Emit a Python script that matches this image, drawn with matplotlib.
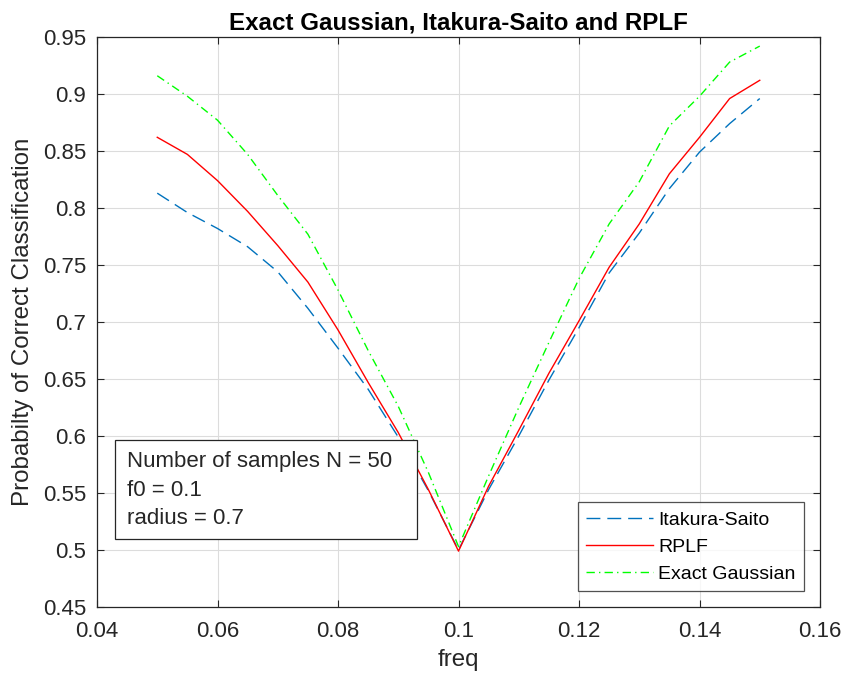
import matplotlib
matplotlib.use("Agg")
import matplotlib.pyplot as plt
from matplotlib.patches import Rectangle

# data
freq = [0.05, 0.055, 0.06, 0.065, 0.07, 0.075, 0.08, 0.085, 0.09, 0.095, 0.1,
        0.105, 0.11, 0.115, 0.12, 0.125, 0.13, 0.135, 0.14, 0.145, 0.15]
itakura = [0.813, 0.796, 0.782, 0.766, 0.744, 0.712, 0.677, 0.641, 0.599, 0.552, 0.500,
           0.553, 0.600, 0.649, 0.695, 0.743, 0.778, 0.817, 0.849, 0.874, 0.896]
rplf = [0.862, 0.847, 0.824, 0.797, 0.767, 0.735, 0.693, 0.647, 0.603, 0.553, 0.499,
        0.556, 0.605, 0.655, 0.701, 0.748, 0.786, 0.830, 0.862, 0.896, 0.912]
gauss = [0.916, 0.898, 0.877, 0.847, 0.811, 0.777, 0.728, 0.675, 0.626, 0.568, 0.503,
         0.565, 0.625, 0.682, 0.738, 0.786, 0.823, 0.872, 0.898, 0.928, 0.942]

xticks = [0.04, 0.06, 0.08, 0.1, 0.12, 0.14, 0.16]
xticklabels = ["0.04", "0.06", "0.08", "0.1", "0.12", "0.14", "0.16"]
yticks = [0.45, 0.5, 0.55, 0.6, 0.65, 0.7, 0.75, 0.8, 0.85, 0.9, 0.95]
yticklabels = ["0.45", "0.5", "0.55", "0.6", "0.65", "0.7", "0.75", "0.8", "0.85", "0.9", "0.95"]
info_lines = ["Number of samples N = 50", "f0 = 0.1", "radius = 0.7"]

plt.rcParams['font.family'] = ['Liberation Sans', 'DejaVu Sans']

fig = plt.figure(figsize=(8.48, 6.81), dpi=100)
ax = fig.add_axes([0.1144, 0.1087, 0.8526, 0.837])

ax.plot(freq, itakura, color='#0072BD', lw=1.0, dashes=(10, 5), label='Itakura-Saito')
ax.plot(freq, rplf, color='#FF0000', lw=1.0, label='RPLF')
ax.plot(freq, gauss, color='#00FF00', lw=1.0, dashes=(6, 3, 1, 3), label='Exact Gaussian')

ax.set_xlim(0.04, 0.16)
ax.set_ylim(0.45, 0.95)
ax.set_xticks(xticks)
ax.set_xticklabels(xticklabels)
ax.set_yticks(yticks)
ax.set_yticklabels(yticklabels)
ax.tick_params(direction='in', top=True, right=True, length=5, width=0.8,
               colors='#262626', labelsize=16, labelcolor='#262626')
ax.tick_params(axis='x', pad=10)
ax.tick_params(axis='y', pad=8)
ax.grid(True, color='#dcdcdc', lw=0.8)
ax.set_axisbelow(True)
for s in ax.spines.values():
    s.set_color('#262626')
    s.set_linewidth(0.9)

ax.set_title('Exact Gaussian, Itakura-Saito and RPLF', fontsize=17.4, fontweight='bold',
             color='black', pad=5.5)
ax.set_xlabel('freq', fontsize=17.4, color='#262626', labelpad=5)
ax.set_ylabel('Probabilty of Correct Classification', fontsize=17.4, color='#262626', labelpad=6)

# annotation box (fixed size, like the MATLAB textbox)
ax.add_patch(Rectangle((0.0249, 0.1193), 0.4177, 0.1737, transform=ax.transAxes,
                       fc='white', ec='#262626', lw=0.9, zorder=4))
for txt, yy in zip(info_lines, [0.2544, 0.2035, 0.1544]):
    ax.text(0.0415, yy, txt, transform=ax.transAxes, fontsize=16, va='center',
            ha='left', color='#262626', zorder=5)

leg = ax.legend(loc='lower right', fontsize=14, frameon=True, fancybox=False,
                edgecolor='#262626', handlelength=3.4, borderpad=0.45,
                labelspacing=0.48, handletextpad=0.3, borderaxespad=0.8)
leg.get_frame().set_linewidth(0.9)

fig.savefig('out.png', dpi=100)
